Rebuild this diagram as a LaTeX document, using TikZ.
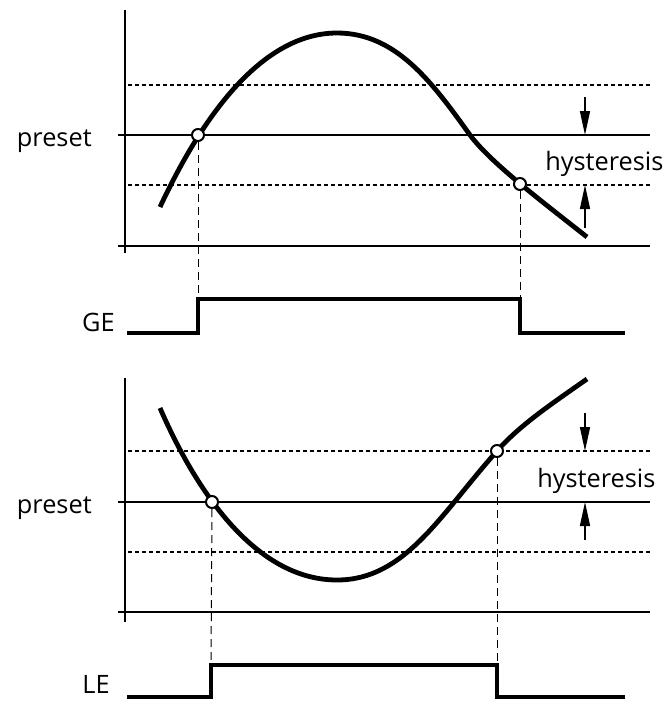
\documentclass[tikz,border=0pt]{standalone}
\usepackage{fontspec}
\setmainfont{Open Sans}
\usetikzlibrary{arrows.meta}

\begin{document}
\begin{tikzpicture}[x=0.75pt, y=-0.75pt,
    every node/.style={font=\fontsize{19}{22}\selectfont, inner sep=0pt},
    axis/.style={line width=1.5pt},
    level/.style={line width=1.5pt},
    band/.style={line width=1.5pt, dash pattern=on 3pt off 2.25pt},
    curve/.style={line width=3.6pt},
    signal/.style={line width=3pt, line join=miter},
    guide/.style={line width=0.75pt, dash pattern=on 6pt off 3.75pt},
    cross/.style={circle, draw, fill=white, line width=1.5pt, minimum size=9pt},
    hyst/.style={line width=1.1pt, -{Triangle[length=18pt, width=7.5pt]}}]
    \useasboundingbox (0,0) rectangle (670,701);
    % upper panel: GE
    \draw[axis](125,10)--(125,253);
    \draw[level](118,135)--(650,135);
    \draw[level](118,246)--(650,246);
    \draw[band](128,85)--(650,85);
    \draw[band](128,185)--(650,185);
    \draw[curve](160,207) .. controls (210,100) and (270,33) .. (337,33)
        .. controls (396,33) and (432,82) .. (470,135)
        .. controls (490,162) and (540,200) .. (587,237);
    \node[cross](geon)at(198,135){};
    \node[cross](geoff)at(520,184){};
    \coordinate(geup)at(198,299);
    \coordinate(gedown)at(520,299);
    \draw[guide](geon.south)--(geup);
    \draw[guide](geoff.south)--(gedown);
    \draw[signal](127,333)-|(geup)--(gedown)|-(625,333);
    \node[anchor=base east](preset1)at(92,146){preset};
    \node[anchor=base east](ge)at(115,331){GE};
    \node[anchor=base west](hyst1)at(545,170){hysteresis};
    \coordinate(ha1)at(585,97);
    \coordinate(hb1)at(585,135);
    \coordinate(ha2)at(585,228);
    \coordinate(hb2)at(585,185);
    \draw[hyst](ha1)--(hb1);
    \draw[hyst](ha2)--(hb2);
    % lower panel: LE
    \draw[axis](125,378)--(125,622);
    \draw[level](118,502)--(650,502);
    \draw[level](118,612)--(650,612);
    \draw[band](128,451)--(650,451);
    \draw[band](128,552)--(650,552);
    \draw[curve](160,408) .. controls (200,500) and (260,580) .. (337,580)
        .. controls (405,580) and (440,515) .. (497,451)
        .. controls (520,425) and (550,405) .. (587,379);
    \node[cross](leon)at(212,502){};
    \node[cross](leoff)at(497,451){};
    \coordinate(leup)at(211,665);
    \coordinate(ledown)at(497,665);
    \draw[guide](leon.south)--(leup);
    \draw[guide](leoff.south)--(ledown);
    \draw[signal](127,697)-|(leup)--(ledown)|-(625,697);
    \node[anchor=base east](preset2)at(92,513){preset};
    \node[anchor=base east](le)at(110,693){LE};
    \node[anchor=base west](hyst2)at(537,487){hysteresis};
    \coordinate(ha3)at(585,413);
    \coordinate(hb3)at(585,451);
    \coordinate(ha4)at(585,540);
    \coordinate(hb4)at(585,502);
    \draw[hyst](ha3)--(hb3);
    \draw[hyst](ha4)--(hb4);
\end{tikzpicture}
\end{document}
